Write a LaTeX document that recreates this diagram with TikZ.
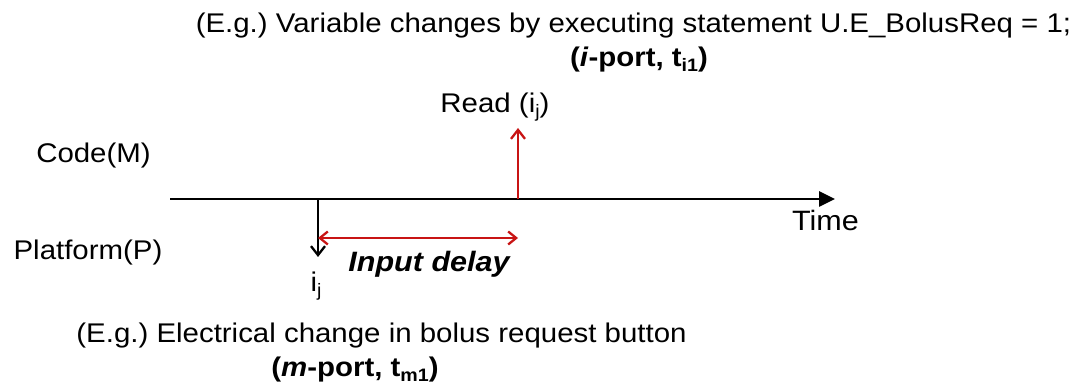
\documentclass[tikz,border=0pt]{standalone}
\usepackage{fontspec}
\setmainfont{Liberation Sans}[FakeStretch=1.09]
\usetikzlibrary{arrows.meta}
\definecolor{delayred}{RGB}{200,20,20}
\frenchspacing
% small lowered index used in "t_i1", "t_m1" and "i_j"
\newcommand\lowidx[1]{\raisebox{-0.15em}{\fontsize{18}{18}\selectfont #1}}
\begin{document}
\begin{tikzpicture}[x=1pt,y=-1pt,
  lbl/.style={inner sep=0pt,anchor=base,font=\fontsize{27}{30}\selectfont},
  boldlbl/.style={lbl,font=\fontsize{27}{30}\selectfont\bfseries},
  axis/.style={line width=2.6pt,-{Triangle[length=16pt,width=15pt]}},
  event/.style={line width=2.3pt,-{Straight Barb[length=9pt,width=14pt]}},
  delayarrow/.style={line width=2.3pt,delayred,{Straight Barb[length=8pt,width=13pt]}-{Straight Barb[length=8pt,width=13pt]}}]
\useasboundingbox (0,0) rectangle (1090,387);

% captions above the time line
\node[lbl] (cap1) at (633.5,33) {(E.g.) Variable changes by executing statement U.E\_BolusReq = 1;};
\node[boldlbl] (cap2) at (639,67) {(\textit{i}-port, t\lowidx{i1})};
\node[lbl] (read) at (495,113) {Read (i\lowidx{j})};

% row labels
\node[lbl] (code) at (93.5,163) {Code(M)};
\node[lbl] (plat) at (88,260) {Platform(P)};

% time axis
\coordinate (t0) at (170,199);
\coordinate (t1) at (835,199);
\draw[axis] (t0) -- (t1);
\node[lbl,font=\fontsize{28}{30}\selectfont] (time) at (825.5,231) {Time};

% input event on the platform and its read in the code
\coordinate (inA) at (318,199);
\coordinate (inB) at (318,257);
\draw[event] (inA) -- (inB);
\node[lbl] (ij) at (316,292) {i\lowidx{j}};

\coordinate (rdA) at (518,199);
\coordinate (rdB) at (518,128);
\draw[event,delayred] (rdA) -- (rdB);

% delay between the two
\coordinate (dA) at (318,238);
\coordinate (dB) at (518,238);
\draw[delayarrow] (dA) -- (dB);
\node[lbl,font=\fontsize{28}{30}\selectfont\bfseries\itshape] (delay) at (429,272) {Input delay};

% captions below the time line
\node[lbl] (cap3) at (381.5,343) {(E.g.) Electrical change in bolus request button};
\node[boldlbl] (cap4) at (355,377) {(\textit{m}-port, t\lowidx{m1})};
\end{tikzpicture}
\end{document}
